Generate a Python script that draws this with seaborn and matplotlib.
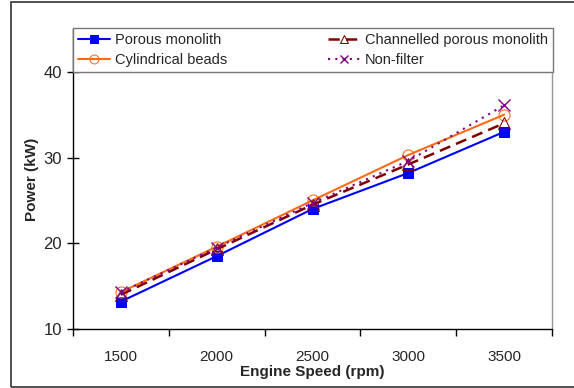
import matplotlib
matplotlib.use("Agg")
import matplotlib.pyplot as plt
import seaborn as sns
import pandas as pd
from matplotlib.patches import Rectangle

# engine speed categories and power (kW) per filter type
speeds = ["1500", "2000", "2500", "3000", "3500"]
porous_monolith = [13.2, 18.5, 24.0, 28.2, 33.0]
cylindrical_beads = [14.3, 19.6, 25.0, 30.3, 35.0]
channelled_monolith = [14.0, 19.3, 24.5, 29.2, 34.0]
non_filter = [14.3, 19.5, 24.7, 29.6, 36.1]

sns.set_style("ticks")
plt.rcParams["font.family"] = ["Liberation Sans", "DejaVu Sans"]

fig = plt.figure(figsize=(5.74, 3.88), dpi=100)
ax = fig.add_axes([73 / 574, 1 - 329 / 388, 479 / 574, 300 / 388])

series = [
    ("Porous monolith", porous_monolith, dict(color="#0000FF", marker="s", markersize=7,
                                              markerfacecolor="#0000FF", markeredgecolor="#0000FF",
                                              linewidth=1.5)),
    ("Cylindrical beads", cylindrical_beads, dict(color="#FF6A13", marker="o", markersize=8,
                                                  markerfacecolor="none", markeredgecolor="#FF6A13",
                                                  linewidth=1.5)),
    ("Channelled porous monolith", channelled_monolith, dict(color="#800000", marker="^", markersize=8,
                                                             markerfacecolor="none", markeredgecolor="#800000",
                                                             linewidth=1.8, dashes=(4.5, 2.5))),
    ("Non-filter", non_filter, dict(color="#800080", marker="x", markersize=8,
                                    markeredgecolor="#800080", markeredgewidth=1.0,
                                    linewidth=1.5, dashes=(1, 2.5))),
]

for name, vals, style in series:
    df = pd.DataFrame({"speed": speeds, "power": vals})
    sns.lineplot(data=df, x="speed", y="power", ax=ax, label=name, **style)

ax.set_xlim(-0.5, len(speeds) - 0.5)
ax.set_ylim(10, 45)
ax.set_yticks([10, 20, 30, 40])
ax.set_xticks(range(len(speeds)))
ax.set_xticklabels(speeds)
ax.set_xticks([i - 0.5 for i in range(len(speeds) + 1)], minor=True)
ax.tick_params(axis="x", which="major", length=0, labelsize=11, pad=15)
ax.tick_params(axis="x", which="minor", length=5, width=1, direction="out", color="black")
ax.tick_params(axis="y", direction="inout", length=8, width=1, labelsize=12, color="black", pad=4)

for s in ["left", "bottom"]:
    ax.spines[s].set_color("black")
    ax.spines[s].set_linewidth(1)
ax.spines["right"].set_color("#999999")
ax.spines["right"].set_linewidth(1)
ax.spines["top"].set_visible(False)

ax.set_xlabel("Engine Speed (rpm)", fontsize=11, fontweight="bold", labelpad=1)
ax.set_ylabel("Power (kW)", fontsize=11, fontweight="bold", labelpad=3)

h, l = ax.get_legend_handles_labels()
leg = ax.legend(h, l, ncol=2, mode="expand",
                bbox_to_anchor=(0, 0.857, 1.002, 0.157), loc="lower left",
                borderaxespad=0, fontsize=10.5, frameon=True, fancybox=False,
                handlelength=2.2, handletextpad=0.3, labelspacing=0.4,
                borderpad=0.35, columnspacing=1.0, markerscale=0.8)
leg.get_frame().set_edgecolor("#777777")
leg.get_frame().set_linewidth(1)
leg.get_frame().set_alpha(1)

# outer chart frame
fig.patches.append(Rectangle((11 / 574, 1 / 388), 1.0, 385 / 388, transform=fig.transFigure,
                             fill=False, edgecolor="#333333", linewidth=1.2, figure=fig))

fig.savefig("out.png", dpi=100)
